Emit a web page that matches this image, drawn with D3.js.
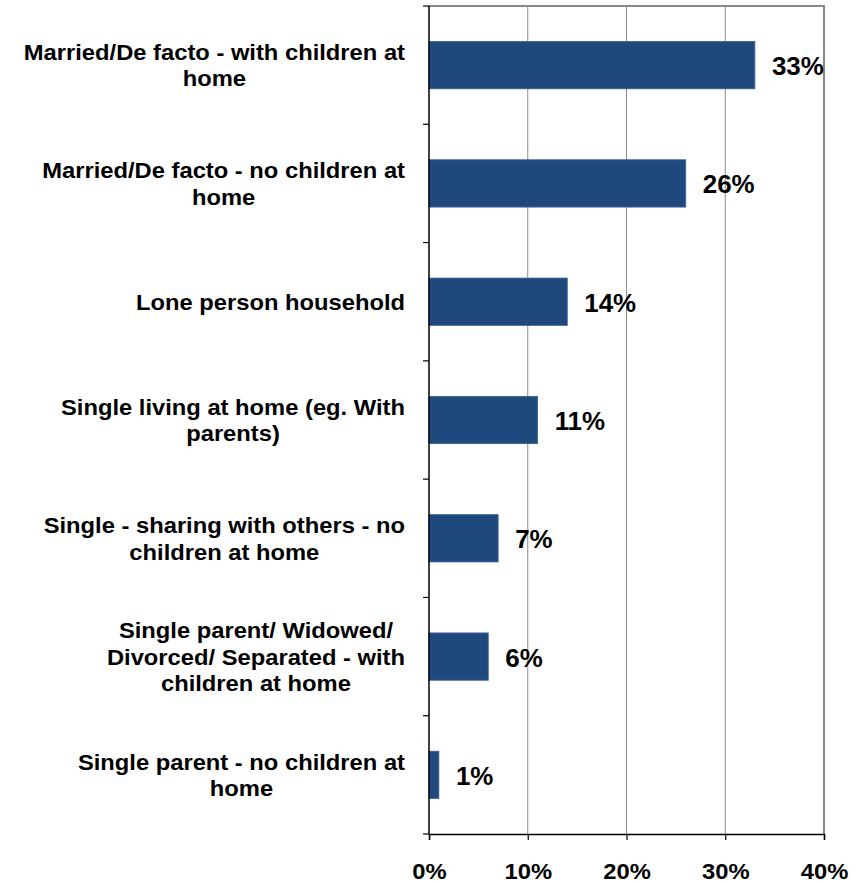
<!DOCTYPE html>
<html>
<head>
<meta charset="utf-8">
<script src="https://cdn.jsdelivr.net/npm/d3@7"></script>
<style>
  html, body { margin: 0; padding: 0; background: #fff; }
  svg { display: block; }
  text { font-family: "Liberation Sans", Arial, Helvetica, sans-serif; font-weight: bold; fill: #000; }
</style>
</head>
<body>
<svg id="chart" width="865" height="884"></svg>
<script>
// Household composition, share of respondents
const categories = [
  ["Married/De facto - with children at", "home"],
  ["Married/De facto - no children at", "home"],
  ["Lone person household"],
  ["Single living at home (eg. With", "parents)"],
  ["Single - sharing with others - no", "children at home"],
  ["Single parent/ Widowed/", "Divorced/ Separated - with", "children at home"],
  ["Single parent - no children at", "home"]
];
const values = [33, 26, 14, 11, 7, 6, 1];
const xTicks = [0, 10, 20, 30, 40];

const svg = d3.select("#chart");
const plotLeft = 429, plotRight = 824, plotTop = 6, plotBottom = 834;
const widen = 1.08; // slightly wide lettering

const keys = categories.map((c, i) => i);
const y = d3.scaleBand().domain(keys).range([plotTop, plotBottom]).paddingInner(0.6).paddingOuter(0.3);
const x = d3.scaleLinear().domain([0, 40]).range([plotLeft, plotRight]);

// vertical gridlines
svg.append("g").selectAll("line").data(xTicks.filter(t => t > 0 && t < 40)).join("line")
  .attr("x1", d => x(d)).attr("x2", d => x(d))
  .attr("y1", plotTop).attr("y2", plotBottom)
  .attr("stroke", "#8c8c8c").attr("stroke-width", 1);

// plot-area border (top and right)
svg.append("path")
  .attr("d", `M${plotLeft},${plotTop}H${plotRight}V${plotBottom}`)
  .attr("fill", "none").attr("stroke", "#888").attr("stroke-width", 2);

// bars
svg.append("g").selectAll("rect").data(values).join("rect")
  .attr("x", x(0))
  .attr("y", (d, i) => y(i))
  .attr("width", d => x(d) - x(0))
  .attr("height", y.bandwidth())
  .attr("fill", "#1f497d")
  .attr("stroke", "#3a6296").attr("stroke-width", 0.8);

// value labels
svg.append("g").selectAll("text").data(values).join("text")
  .attr("transform", (d, i) => `translate(${x(d) + 17},${y(i) + y.bandwidth() / 2 + 10}) scale(${widen * 0.96},1)`)
  .attr("font-size", 25)
  .text(d => d + "%");

// y axis with ticks at band boundaries
const bounds = d3.range(categories.length + 1).map(i => plotTop + i * (plotBottom - plotTop) / categories.length);
const gy = svg.append("g");
gy.append("line").attr("x1", plotLeft).attr("x2", plotLeft).attr("y1", plotTop).attr("y2", plotBottom)
  .attr("stroke", "#000").attr("stroke-width", 1.5);
gy.selectAll("line.tick").data(bounds).join("line").attr("class", "tick")
  .attr("x1", plotLeft - 6).attr("x2", plotLeft).attr("y1", d => d).attr("y2", d => d)
  .attr("stroke", "#000").attr("stroke-width", 1.2);

// x axis
const xAxis = d3.axisBottom(x).tickValues(xTicks).tickSize(6).tickPadding(0).tickFormat(d => d + "%");
const gx = svg.append("g").attr("transform", `translate(0,${plotBottom})`).call(xAxis);
gx.attr("font-family", null).attr("font-size", null);
gx.select(".domain").attr("stroke", "#000").attr("stroke-width", 1.5);
gx.selectAll(".tick line").attr("stroke", "#000").attr("stroke-width", 1.2);
gx.selectAll(".tick text")
  .attr("y", null).attr("dy", null)
  .attr("transform", `translate(0,45) scale(${widen},1)`)
  .attr("font-size", 22).attr("fill", "#000");

// category labels: lines centred on each other, block right-aligned to the axis
const lineH = 26.6;
const labelRight = 405;
const gl = svg.append("g").attr("transform", `translate(${labelRight},0) scale(${widen},1)`);
categories.forEach((lines, i) => {
  const cy = y(i) + y.bandwidth() / 2;
  const t = gl.append("text").attr("font-size", 22).attr("text-anchor", "middle");
  const n = lines.length;
  lines.forEach((ln, j) => {
    t.append("tspan").attr("x", 0)
      .attr("y", cy + (j - (n - 1) / 2) * lineH + 8)
      .text(ln);
  });
  const w = d3.max(t.selectAll("tspan").nodes(), nd => nd.getComputedTextLength());
  t.selectAll("tspan").attr("x", -w / 2);
});
</script>
</body>
</html>
